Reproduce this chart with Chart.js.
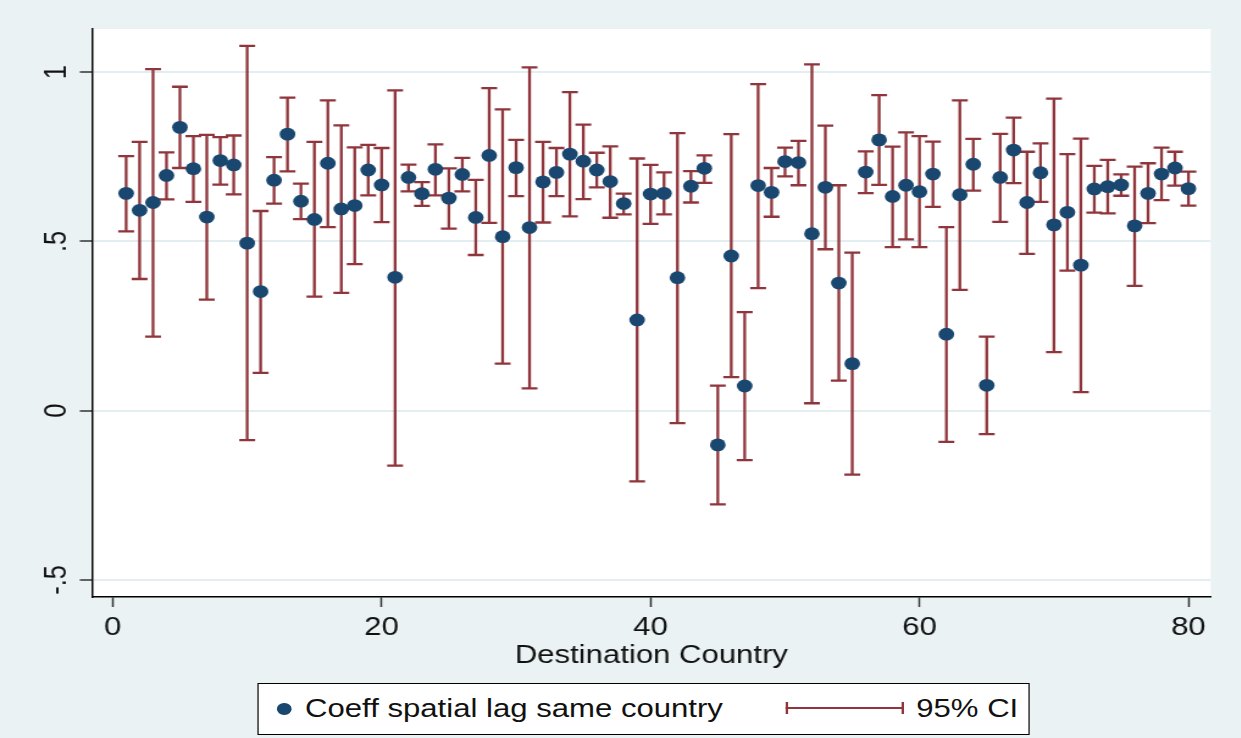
<!DOCTYPE html>
<html>
<head>
<meta charset="utf-8">
<script src="https://cdn.jsdelivr.net/npm/chart.js@4.4.1/dist/chart.umd.min.js"></script>
<style>
  html, body { margin: 0; padding: 0; background: #eaf2f3; overflow: hidden; }
  /* the reference picture is stretched sideways, so the whole drawing is scaled on x */
  #wrap { position: absolute; left: 0; top: 0; width: 1017px; height: 738px; transform: scaleX(1.22); transform-origin: 0 0; }
  #box { position: absolute; left: 0; top: 0; width: 1017px; height: 738px; }
  #legend { position: absolute; left: 211px; top: 683px; width: 633px; height: 52px; background: #fff;
            border: 1.5px solid #000; box-sizing: border-box; font: 25.5px "Liberation Sans", Arial, sans-serif; color: #111; }
  #legend .item { position: absolute; top: 0; height: 49px; line-height: 49px; white-space: nowrap; }
  .dot { position: absolute; top: 19px; left: 15px; width: 11.5px; height: 11.5px; border-radius: 50%; background: #1a476f; }
  .ci { position: absolute; top: 18px; left: 432px; width: 97px; height: 12px; }
  .ci::before { content: ""; position: absolute; left: 0; right: 0; top: 5px; height: 2px; background: #90353b; }
  .ci::after { content: ""; position: absolute; left: 0; right: 0; top: 0; height: 12px; border-left: 2px solid #90353b; border-right: 2px solid #90353b; box-sizing: border-box; }
</style>
</head>
<body>
<div id="wrap">
  <div id="box"><canvas id="chart"></canvas></div>
  <div id="legend">
    <span class="dot"></span>
    <span class="item" style="left:38px">Coeff spatial lag same country</span>
    <span class="ci"></span>
    <span class="item" style="left:539px">95% CI</span>
  </div>
</div>
<script>
var countries = [1, 2, 3, 4, 5, 6, 7, 8, 9, 10, 11, 12, 13, 14, 15, 16, 17, 18, 19, 20,
  21, 22, 23, 24, 25, 26, 27, 28, 29, 30, 31, 32, 33, 34, 35, 36, 37, 38, 39, 40,
  41, 42, 43, 44, 45, 46, 47, 48, 49, 50, 51, 52, 53, 54, 55, 56, 57, 58, 59, 60,
  61, 62, 63, 64, 65, 66, 67, 68, 69, 70, 71, 72, 73, 74, 75, 76, 77, 78, 79, 80];

var coef = [0.642, 0.592, 0.615, 0.695, 0.837, 0.715, 0.572, 0.739, 0.726, 0.495,
  0.352, 0.681, 0.817, 0.619, 0.565, 0.731, 0.596, 0.606, 0.711, 0.667,
  0.394, 0.689, 0.641, 0.713, 0.628, 0.698, 0.571, 0.754, 0.514, 0.718,
  0.541, 0.676, 0.704, 0.758, 0.737, 0.711, 0.677, 0.612, 0.268, 0.640,
  0.642, 0.393, 0.663, 0.716, -0.101, 0.457, 0.073, 0.665, 0.645, 0.736,
  0.733, 0.523, 0.660, 0.377, 0.139, 0.705, 0.800, 0.633, 0.666, 0.647,
  0.699, 0.226, 0.638, 0.728, 0.075, 0.689, 0.770, 0.615, 0.703, 0.549,
  0.586, 0.430, 0.655, 0.662, 0.667, 0.546, 0.642, 0.699, 0.717, 0.656];

var ciUpper = [0.752, 0.794, 1.009, 0.763, 0.957, 0.811, 0.815, 0.808, 0.813, 1.078,
  0.590, 0.749, 0.925, 0.671, 0.794, 0.917, 0.843, 0.778, 0.785, 0.776,
  0.946, 0.727, 0.675, 0.787, 0.716, 0.747, 0.682, 0.953, 0.890, 0.800,
  1.014, 0.794, 0.776, 0.941, 0.845, 0.762, 0.781, 0.641, 0.745, 0.726,
  0.704, 0.820, 0.708, 0.754, 0.074, 0.817, 0.291, 0.965, 0.717, 0.777,
  0.797, 1.023, 0.842, 0.666, 0.467, 0.766, 0.932, 0.780, 0.822, 0.811,
  0.795, 0.542, 0.917, 0.803, 0.219, 0.818, 0.866, 0.765, 0.790, 0.922,
  0.758, 0.804, 0.723, 0.741, 0.698, 0.721, 0.731, 0.777, 0.765, 0.706];

var ciLower = [0.530, 0.389, 0.219, 0.624, 0.717, 0.617, 0.328, 0.668, 0.639, -0.087,
  0.112, 0.612, 0.707, 0.566, 0.337, 0.542, 0.348, 0.433, 0.636, 0.557,
  -0.162, 0.648, 0.605, 0.636, 0.538, 0.648, 0.460, 0.555, 0.139, 0.634,
  0.066, 0.556, 0.634, 0.574, 0.625, 0.660, 0.570, 0.580, -0.209, 0.552,
  0.580, -0.037, 0.615, 0.673, -0.277, 0.099, -0.146, 0.362, 0.573, 0.692,
  0.666, 0.022, 0.477, 0.089, -0.189, 0.643, 0.667, 0.483, 0.506, 0.483,
  0.602, -0.092, 0.357, 0.650, -0.069, 0.558, 0.672, 0.463, 0.617, 0.173,
  0.414, 0.055, 0.585, 0.583, 0.635, 0.369, 0.554, 0.622, 0.665, 0.606];

var xTicks = [0, 20, 40, 60, 80];
var yTicks = [-0.5, 0, 0.5, 1];
var yTickLabels = ['-.5', '0', '.5', '1'];

var tickFont = { family: '"Liberation Sans", Arial, sans-serif', size: 25.5 };

// white plot region
var plotBg = {
  id: 'plotBg',
  beforeDraw: function (chart) {
    var a = chart.chartArea;
    var ctx = chart.ctx;
    ctx.save();
    ctx.fillStyle = '#ffffff';
    ctx.fillRect(a.left, a.top, a.right - a.left, a.bottom - a.top);
    ctx.restore();
  }
};

// 95% CI whiskers with caps
var ciBars = {
  id: 'ciBars',
  beforeDatasetsDraw: function (chart) {
    var ctx = chart.ctx;
    var x = chart.scales.x;
    var y = chart.scales.y;
    ctx.save();
    ctx.strokeStyle = '#90353b';
    ctx.lineWidth = 2.3;
    for (var i = 0; i < countries.length; i++) {
      var px = x.getPixelForValue(countries[i]);
      var top = y.getPixelForValue(ciUpper[i]);
      var bot = y.getPixelForValue(ciLower[i]);
      ctx.beginPath();
      ctx.moveTo(px, top); ctx.lineTo(px, bot);
      ctx.moveTo(px - 6.5, top); ctx.lineTo(px + 6.5, top);
      ctx.moveTo(px - 6.5, bot); ctx.lineTo(px + 6.5, bot);
      ctx.stroke();
    }
    ctx.restore();
  }
};

new Chart(document.getElementById('chart'), {
  type: 'scatter',
  data: {
    datasets: [{
      label: 'Coeff spatial lag same country',
      data: countries.map(function (c, i) { return { x: c, y: coef[i] }; }),
      backgroundColor: '#1a476f',
      borderWidth: 0,
      pointRadius: 6.4,
      pointHoverRadius: 6.4
    }]
  },
  options: {
    responsive: true,
    maintainAspectRatio: false,
    animation: false,
    layout: { padding: { left: 0, right: 24.6, top: 29, bottom: 61 } },
    plugins: {
      legend: { display: false },
      tooltip: { enabled: false }
    },
    scales: {
      x: {
        type: 'linear',
        min: -1.54,
        max: 81.66,
        afterBuildTicks: function (s) { s.ticks = xTicks.map(function (v) { return { value: v }; }); },
        afterFit: function (s) { s.height = 80; },
        grid: { color: 'rgba(0,0,0,0)', tickColor: '#333', tickLength: 10, tickWidth: 1.5 },
        border: { display: true, color: '#000', width: 1.5 },
        ticks: { font: tickFont, color: '#111', padding: 6, maxRotation: 0 },
        title: {
          display: true,
          text: 'Destination Country',
          font: tickFont,
          color: '#111',
          padding: { top: 0, bottom: 5.7 }
        }
      },
      y: {
        type: 'linear',
        min: -0.5504,
        max: 1.1276,
        afterBuildTicks: function (s) { s.ticks = yTicks.map(function (v) { return { value: v }; }); },
        afterFit: function (s) { s.width = 75.4; },
        grid: { color: '#e3eef0', lineWidth: 2, tickColor: '#333', tickLength: 10, tickWidth: 1.5 },
        border: { display: true, color: '#000', width: 1.5 },
        ticks: {
          font: tickFont,
          color: '#111',
          padding: 3.8,
          minRotation: 90,
          maxRotation: 90,
          crossAlign: 'center',
          callback: function (v) {
            var k = yTicks.indexOf(v);
            return k >= 0 ? yTickLabels[k] : '';
          }
        }
      }
    }
  },
  plugins: [plotBg, ciBars]
});
</script>
</body>
</html>
